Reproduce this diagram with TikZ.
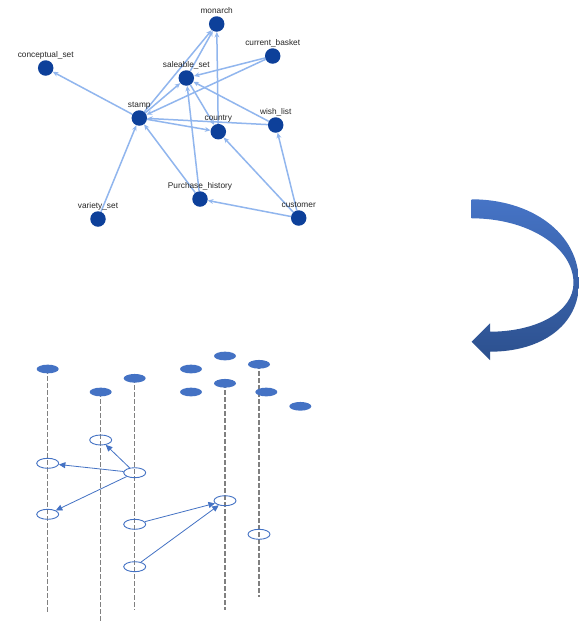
\documentclass[tikz,border=0pt]{standalone}
\usepackage{fontspec}
\setmainfont{Liberation Sans}
\usetikzlibrary{arrows.meta,shapes.geometric,backgrounds}
\definecolor{gnode}{RGB}{13,64,154}
\definecolor{gedge}{RGB}{145,182,238}
\definecolor{oblue}{RGB}{68,114,196}
\definecolor{lgray}{RGB}{128,128,128}
\definecolor{arrtop}{RGB}{70,116,198}
\definecolor{arrbot}{RGB}{44,80,142}
\begin{document}
\begin{tikzpicture}[x=1pt,y=-1pt,
 gv/.style={circle,fill=gnode,minimum size=15.5pt,inner sep=0pt,
   label={[font=\fontsize{8.3}{9}\selectfont,text=black!85,inner sep=1pt,text height=6pt,text depth=1.7pt]above:#1}},
 ge/.style={draw=gedge,line width=1.5pt,-{Stealth[length=5.5pt,width=4.8pt]}},
 obj/.style={ellipse,fill=oblue,minimum width=22pt,minimum height=8.7pt,inner sep=0pt},
 act/.style={ellipse,draw=oblue,line width=0.9pt,minimum width=22pt,minimum height=10pt,inner sep=0pt},
 life/.style={draw=lgray,dash pattern=on 4.5pt off 2.5pt,line width=1.2pt},
 msg/.style={draw=oblue,line width=0.8pt,-{Triangle[length=6.5pt,width=6pt]}},
 bigarrow/.style={top color=arrtop,bottom color=arrbot,draw=none}]
\useasboundingbox (0,0) rectangle (579,625);

% ---------- top graph ----------
\node[gv={monarch}] (monarch) at (216.7,24) {};
\node[gv={current\_basket}] (basket) at (272.7,56) {};
\node[gv={conceptual\_set}] (concept) at (45.7,68) {};
\node[gv={saleable\_set}] (saleable) at (186.3,78) {};
\node[gv={stamp}] (stamp) at (139.3,118) {};
\node[gv={country}] (country) at (218.3,131.7) {};
\node[gv={wish\_list}] (wish) at (275.7,125) {};
\node[gv={Purchase\_history}] (purchase) at (200,199) {};
\node[gv={variety\_set}] (variety) at (98,219) {};
\node[gv={customer}] (customer) at (298.7,218) {};

% ---------- lower diagram ----------
\node[obj] (o1) at (47.7,369) {};
\node[obj] (o2) at (100.7,392) {};
\node[obj] (o3) at (134.7,378.3) {};
\node[obj] (o4) at (191,369) {};
\node[obj] (o5) at (191,392) {};
\node[obj] (o6) at (225,356) {};
\node[obj] (o7) at (225,383.3) {};
\node[obj] (o8) at (259,364.3) {};
\node[obj] (o9) at (266.3,392) {};
\node[obj] (o10) at (300.3,406.3) {};

\coordinate (e1) at (47.7,613);
\coordinate (e2) at (100.7,623);
\coordinate (e3) at (134.7,610);
\coordinate (e7) at (225,610);
\coordinate (e8) at (259,597);

\node[act] (a1) at (100.7,440) {};
\node[act] (a2) at (47.7,463.3) {};
\node[act] (a3) at (134.7,472.7) {};
\node[act] (a4) at (47.7,514.3) {};
\node[act] (a5) at (134.7,524.3) {};
\node[act] (a6) at (225,500.7) {};
\node[act] (a7) at (259,534.3) {};
\node[act] (a8) at (134.7,566.7) {};

\draw[msg] (a3) -- (a1);
\draw[msg] (a3) -- (a2);
\draw[msg] (a3) -- (a4);
\draw[msg] (a5) -- (a6);
\draw[msg] (a8) -- (a6);

% ---------- big curved arrow ----------
\shade[bigarrow] (471.7,199.3) .. controls (530,199.3) and (579,232) .. (579,283)
  .. controls (579,325) and (542,351.7) .. (490,351.7)
  -- (490,360) -- (471.7,341.7) -- (490,323.3) -- (490,331.7)
  .. controls (536,331.7) and (573.5,312) .. (573.5,283)
  .. controls (573.5,247) and (528,218.3) .. (471.7,218.3) -- cycle;

\begin{pgfonlayer}{background}
\fill[white] (0,0) rectangle (579,625);
\draw[ge] (stamp) -- (concept);
\draw[ge] (stamp) -- (monarch);
\draw[ge] (saleable) -- (monarch);
\draw[ge] (country) -- (monarch);
\draw[ge] (stamp) -- (saleable);
\draw[ge] (basket) -- (saleable);
\draw[ge] (basket) -- (stamp);
\draw[ge] (wish) -- (saleable);
\draw[ge] (wish) -- (stamp);
\draw[ge] (stamp) -- (country);
\draw[ge] (saleable) -- (country);
\draw[ge] (purchase) -- (saleable);
\draw[ge] (purchase) -- (stamp);
\draw[ge] (variety) -- (stamp);
\draw[ge] (customer) -- (purchase);
\draw[ge] (customer) -- (country);
\draw[ge] (customer) -- (wish);
\draw[life] (o1.center) -- (e1);
\draw[life] (o2.center) -- (e2);
\draw[life] (o3.center) -- (e3);
\draw[life] (o7.center) -- (e7);
\draw[life] (o8.center) -- (e8);
\end{pgfonlayer}
\end{tikzpicture}
\end{document}
